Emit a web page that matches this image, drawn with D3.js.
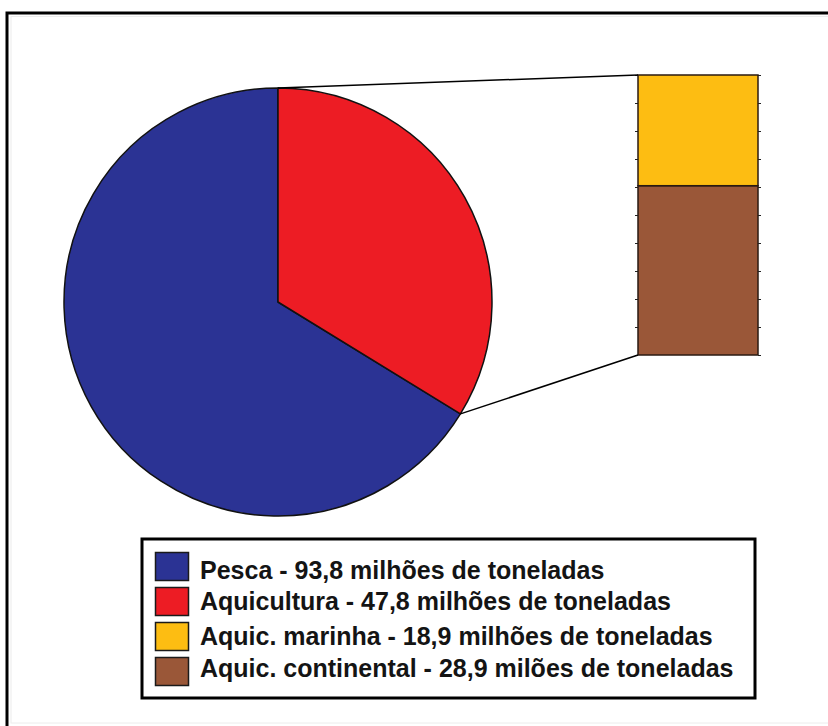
<!DOCTYPE html>
<html>
<head>
<meta charset="utf-8">
<script src="https://cdn.jsdelivr.net/npm/d3@7"></script>
<style>
  html, body { margin: 0; padding: 0; background: #fff; }
  svg { display: block; }
</style>
</head>
<body>
<svg id="chart" width="828" height="726"></svg>
<script>
// Production split: capture fisheries vs. aquaculture (millions of tonnes)
const pieCategories = ["Pesca", "Aquicultura"];
const pieValues = [93.8, 47.8];

// Breakdown of aquaculture, stacked from the top down
const barCategories = ["Aquic. marinha", "Aquic. continental"];
const barValues = [18.9, 28.9];

const legendLabels = [
  "Pesca - 93,8 milhões de toneladas",
  "Aquicultura - 47,8 milhões de toneladas",
  "Aquic. marinha - 18,9 milhões de toneladas",
  "Aquic. continental - 28,9 milões de toneladas"
];

const pieColors = { "Pesca": "#2b3394", "Aquicultura": "#ed1c24" };
const barColors = { "Aquic. marinha": "#fdbd12", "Aquic. continental": "#9a5738" };
const legendColors = ["#2b3394", "#ed1c24", "#fdbd12", "#9a5738"];

const svg = d3.select("#chart");

// Outer frame (top and left edges visible, runs off the page right/bottom)
svg.append("rect")
  .attr("x", 11).attr("y", 16.5).attr("width", 900).attr("height", 706.5)
  .attr("fill", "none").attr("stroke", "#ececec").attr("stroke-width", 1);
svg.append("path")
  .attr("d", "M7,726 V13 H828")
  .attr("fill", "none").attr("stroke", "#000").attr("stroke-width", 3);

// ---- Pie ----
const cx = 278, cy = 302, r = 214;
const total = d3.sum(pieValues);
const start = -2 * Math.PI * pieValues[0] / total;
const pie = d3.pie().sort(null).value(d => d.value)
  .startAngle(start).endAngle(start + 2 * Math.PI);
const arcs = pie(pieCategories.map((c, i) => ({ name: c, value: pieValues[i] })));
const arc = d3.arc().innerRadius(0).outerRadius(r);

const pieG = svg.append("g").attr("transform", `translate(${cx},${cy})`);
pieG.selectAll("path.slice")
  .data(arcs)
  .join("path")
  .attr("class", "slice")
  .attr("d", arc)
  .attr("fill", d => pieColors[d.data.name])
  .attr("stroke", "#111")
  .attr("stroke-width", 1.5)
  .attr("stroke-linejoin", "round");

// ---- Stacked bar for aquaculture breakdown ----
const barX = 638, barW = 120, barTop = 75, barBottom = 355;
const barTotal = d3.sum(barValues);
const y = d3.scaleLinear().domain([0, barTotal]).range([barBottom, barTop]);

// bottom segment first (continental), marinha on top
const stackOrder = barCategories.slice().reverse();
let acc = 0;
const segments = stackOrder.map(name => {
  const v = barValues[barCategories.indexOf(name)];
  const seg = { name, y0: acc, y1: acc + v };
  acc += v;
  return seg;
});

const barG = svg.append("g");
barG.selectAll("rect")
  .data(segments)
  .join("rect")
  .attr("x", barX)
  .attr("width", barW)
  .attr("y", d => y(d.y1))
  .attr("height", d => y(d.y0) - y(d.y1))
  .attr("fill", d => barColors[d.name])
  .attr("stroke", "#2a1a12")
  .attr("stroke-width", 1.5);

// small tick marks on both sides of the bar
const tickVals = d3.range(11).map(i => barTotal * i / 10);
const leftAxis = d3.axisLeft(y).tickValues(tickVals).tickSize(3).tickFormat("");
const rightAxis = d3.axisRight(y).tickValues(tickVals).tickSize(3).tickFormat("");
svg.append("g").attr("transform", `translate(${barX},0)`).call(leftAxis)
  .call(g => g.select(".domain").remove())
  .selectAll("line").attr("stroke", "#222");
svg.append("g").attr("transform", `translate(${barX + barW},0)`).call(rightAxis)
  .call(g => g.select(".domain").remove())
  .selectAll("line").attr("stroke", "#222");

// ---- Connector lines from the aquaculture slice to the bar ----
const aq = arcs[1];
const pt = a => [cx + r * Math.sin(a), cy - r * Math.cos(a)];
const p0 = pt(aq.startAngle);
const p1 = pt(aq.endAngle);
svg.append("line")
  .attr("x1", p0[0]).attr("y1", p0[1]).attr("x2", barX).attr("y2", y(barTotal))
  .attr("stroke", "#000").attr("stroke-width", 1.5);
svg.append("line")
  .attr("x1", p1[0]).attr("y1", p1[1]).attr("x2", barX).attr("y2", y(0))
  .attr("stroke", "#000").attr("stroke-width", 1.5);

// ---- Legend ----
const legend = svg.append("g");
legend.append("rect")
  .attr("x", 142).attr("y", 539).attr("width", 613).attr("height", 159)
  .attr("fill", "#fff").attr("stroke", "#000").attr("stroke-width", 3);

const swatchY = [552, 587, 622, 657];
const textY = [579, 610, 645, 677];
legend.selectAll("rect.sw")
  .data(legendLabels)
  .join("rect")
  .attr("class", "sw")
  .attr("x", 155.5).attr("y", (d, i) => swatchY[i] + 0.5)
  .attr("width", 33).attr("height", 28)
  .attr("fill", (d, i) => legendColors[i])
  .attr("stroke", "#1a1a1a").attr("stroke-width", 1.5);

legend.selectAll("text")
  .data(legendLabels)
  .join("text")
  .attr("x", 200)
  .attr("y", (d, i) => textY[i])
  .attr("font-family", "'Liberation Sans', Arial, sans-serif")
  .attr("font-weight", "bold")
  .attr("font-size", 25)
  .attr("fill", "#141414")
  .text(d => d);
</script>
</body>
</html>
